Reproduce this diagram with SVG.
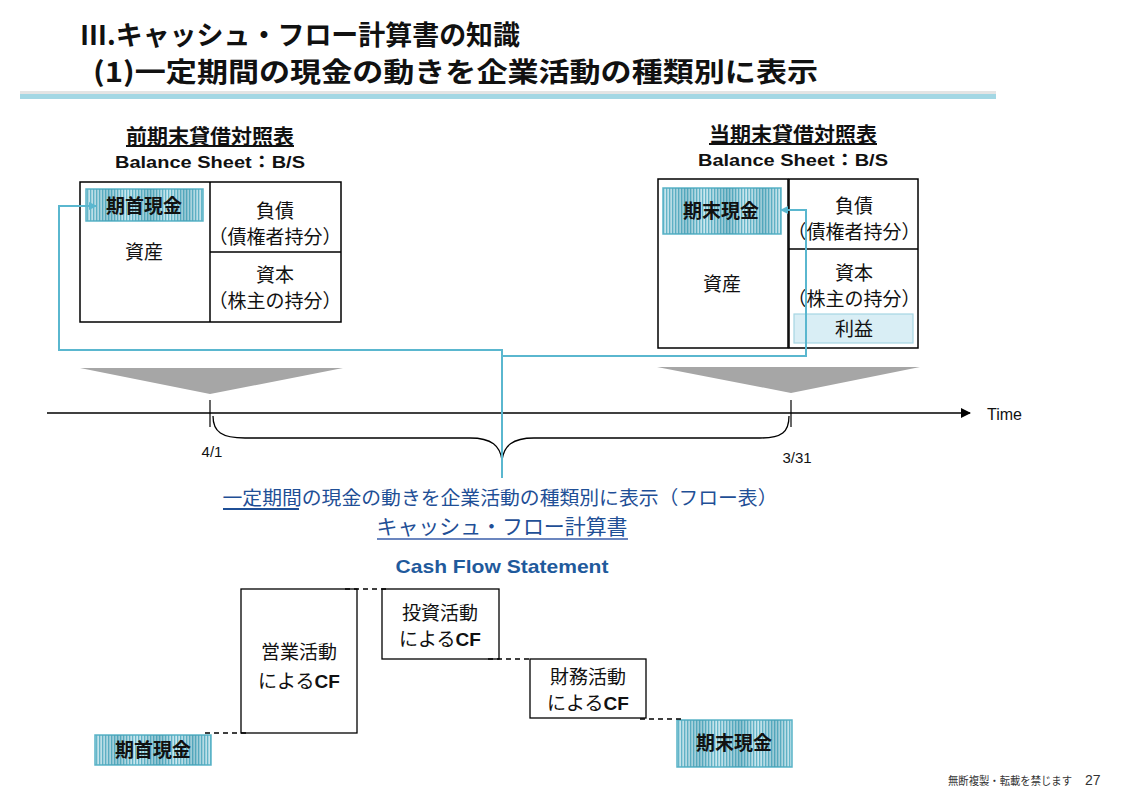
<svg xmlns="http://www.w3.org/2000/svg" width="1129" height="789" viewBox="0 0 1129 789">
<style>
.jp{font-family:"Noto Sans CJK JP","Liberation Sans",sans-serif;}
.t{font-size:19px;fill:#111;text-anchor:middle;}
.cfb{font-family:"Liberation Sans",sans-serif;font-weight:bold;}
.bsl{font-family:"Liberation Sans","Noto Sans CJK JP",sans-serif;font-size:17px;font-weight:bold;fill:#111;text-anchor:middle;}
.bs{fill:#fff;stroke:#000;stroke-width:1.5;}
.cf{fill:#fff;stroke:#000;stroke-width:1.3;}
.dash{stroke:#000;stroke-width:1.3;stroke-dasharray:5,4;fill:none;}
.conn{stroke:#5ab7cf;stroke-width:2;fill:none;}
.hl{stroke:#5ab4c8;stroke-width:1.5;}
</style>
<defs>
<pattern id="stripes" patternUnits="userSpaceOnUse" width="3" height="10">
<rect width="3" height="10" fill="#d6eef4"/>
<rect width="1.3" height="10" fill="#6bbacd"/>
</pattern>
<linearGradient id="bands" x1="0" y1="0" x2="1" y2="0">
<stop offset="0" stop-color="#1f7f98" stop-opacity="0.05"/>
<stop offset="0.2" stop-color="#1f7f98" stop-opacity="0.35"/>
<stop offset="0.35" stop-color="#1f7f98" stop-opacity="0.05"/>
<stop offset="0.55" stop-color="#1f7f98" stop-opacity="0.4"/>
<stop offset="0.7" stop-color="#1f7f98" stop-opacity="0.05"/>
<stop offset="0.85" stop-color="#1f7f98" stop-opacity="0.35"/>
<stop offset="1" stop-color="#1f7f98" stop-opacity="0.05"/>
</linearGradient>
<marker id="arr" markerWidth="8" markerHeight="8" refX="7" refY="4" orient="auto" markerUnits="userSpaceOnUse">
<path d="M0,0 L8,4 L0,8 Z" fill="#5ab7cf"/>
</marker>
<marker id="tarr" markerWidth="10" markerHeight="10" refX="9" refY="5" orient="auto" markerUnits="userSpaceOnUse">
<path d="M0,0 L10,5 L0,10 Z" fill="#000"/>
</marker>
</defs>
<rect width="1129" height="789" fill="#fff"/>

<g id="title">
<text class="jp" x="80" y="45" font-size="27" font-weight="bold" fill="#111" textLength="440" lengthAdjust="spacingAndGlyphs">Ⅲ.キャッシュ・フロー計算書の知識</text>
<text class="jp" x="93" y="82" font-size="27" font-weight="bold" fill="#111" textLength="725" lengthAdjust="spacingAndGlyphs">(1)一定期間の現金の動きを企業活動の種類別に表示</text>
<rect x="20" y="91" width="976" height="3" fill="#e4e4e4"/>
<rect x="20" y="94" width="976" height="5" fill="#a3d7e4"/>
</g>

<g id="bs-prev">
<text class="jp" x="210" y="144" font-size="20" font-weight="bold" text-anchor="middle" fill="#111" text-decoration="underline" textLength="168" lengthAdjust="spacingAndGlyphs">前期末貸借対照表</text>
<text class="bsl" x="210" y="168" textLength="190" lengthAdjust="spacingAndGlyphs">Balance Sheet：B/S</text>
<rect class="bs" x="80" y="182" width="261" height="140"/>
<line x1="210" y1="182" x2="210" y2="322" stroke="#000" stroke-width="1.5"/>
<line x1="210" y1="252" x2="341" y2="252" stroke="#000" stroke-width="1.5"/>
<rect x="86" y="189" width="117" height="32" fill="url(#stripes)" class="hl"/>
<rect x="86" y="189" width="117" height="32" fill="url(#bands)"/>
<text class="jp t" x="144" y="213" font-weight="bold">期首現金</text>
<text class="jp t" x="144" y="259">資産</text>
<text class="jp t" x="275" y="218">負債</text>
<text class="jp t" x="275" y="244">（債権者持分）</text>
<text class="jp t" x="275" y="282">資本</text>
<text class="jp t" x="275" y="308">（株主の持分）</text>
</g>

<g id="bs-curr">
<text class="jp" x="793" y="142" font-size="20" font-weight="bold" text-anchor="middle" fill="#111" text-decoration="underline" textLength="168" lengthAdjust="spacingAndGlyphs">当期末貸借対照表</text>
<text class="bsl" x="793" y="166" textLength="190" lengthAdjust="spacingAndGlyphs">Balance Sheet：B/S</text>
<rect class="bs" x="658" y="179" width="130" height="169"/>
<rect class="bs" x="789" y="179" width="129" height="169"/>
<line x1="789" y1="249" x2="918" y2="249" stroke="#000" stroke-width="1.5"/>
<rect x="663" y="188" width="118" height="46" fill="url(#stripes)" class="hl"/>
<rect x="663" y="188" width="118" height="46" fill="url(#bands)"/>
<text class="jp t" x="721" y="218" font-weight="bold">期末現金</text>
<text class="jp t" x="722" y="291">資産</text>
<text class="jp t" x="854" y="213">負債</text>
<text class="jp t" x="854" y="239">（債権者持分）</text>
<text class="jp t" x="854" y="280">資本</text>
<text class="jp t" x="854" y="306">（株主の持分）</text>
<rect x="794" y="314" width="119" height="29" fill="#d9eef5" stroke="#a6d6e3" stroke-width="1.2"/>
<text class="jp t" x="854" y="336">利益</text>
</g>

<g id="timeline">
<polygon points="80,368 343,368 210,394" fill="#a6a6a6"/>
<polygon points="657,367 920,367 791,393" fill="#a6a6a6"/>
<line x1="47" y1="413" x2="970" y2="413" stroke="#000" stroke-width="1.5" marker-end="url(#tarr)"/>
<line x1="210" y1="400" x2="210" y2="427" stroke="#000" stroke-width="1.2"/>
<line x1="791" y1="400" x2="791" y2="427" stroke="#000" stroke-width="1.2"/>
<path d="M213,416 C213,432 222,438 245,438 L470,438 C492,438 500,446 502,460 C504,446 512,438 534,438 L760,438 C782,438 789,432 789,416" fill="none" stroke="#000" stroke-width="1.3"/>
<text x="987" y="420" font-family="Liberation Sans, sans-serif" font-size="16" fill="#111">Time</text>
<text x="212" y="457" font-family="Liberation Sans, sans-serif" font-size="15" text-anchor="middle" fill="#111">4/1</text>
<text x="797" y="463" font-family="Liberation Sans, sans-serif" font-size="15" text-anchor="middle" fill="#111">3/31</text>
</g>

<g id="connectors">
<polyline class="conn" points="502,478 502,350 59,350 59,206 96,206" marker-end="url(#arr)"/>
<polyline class="conn" points="502,356 806,356 806,210 781,210" marker-end="url(#arr)"/>
</g>

<g id="cf-title">
<text class="jp" x="500" y="505" font-size="19" text-anchor="middle" fill="#1f4f96" textLength="555" lengthAdjust="spacingAndGlyphs">一定期間の現金の動きを企業活動の種類別に表示（フロー表）</text>
<line x1="223" y1="509" x2="299" y2="509" stroke="#1f4f96" stroke-width="2"/>
<text class="jp" x="502" y="534" font-size="21" text-anchor="middle" fill="#1f4f96" textLength="251" lengthAdjust="spacingAndGlyphs">キャッシュ・フロー計算書</text>
<line x1="377" y1="539" x2="628" y2="539" stroke="#6b86bf" stroke-width="2"/>
<text x="502" y="573" font-family="Liberation Sans, sans-serif" font-size="19" font-weight="bold" text-anchor="middle" fill="#1f5a9c" textLength="213" lengthAdjust="spacingAndGlyphs">Cash Flow Statement</text>
</g>

<g id="cf-start">
<rect x="95" y="735" width="116" height="30" fill="url(#stripes)" class="hl"/>
<rect x="95" y="735" width="116" height="30" fill="url(#bands)"/>
<text class="jp t" x="153" y="757" font-weight="bold">期首現金</text>
</g>
<g id="cf-operating">
<rect class="cf" x="241" y="589" width="116" height="144"/>
<text class="jp t" x="299" y="659">営業活動</text>
<text class="jp t" x="299" y="688">による<tspan class="cfb">CF</tspan></text>
</g>
<g id="cf-investing">
<rect class="cf" x="382" y="589" width="117" height="70"/>
<text class="jp t" x="440" y="620">投資活動</text>
<text class="jp t" x="440" y="646">による<tspan class="cfb">CF</tspan></text>
</g>
<g id="cf-financing">
<rect class="cf" x="530" y="659" width="116" height="59"/>
<text class="jp t" x="588" y="684">財務活動</text>
<text class="jp t" x="588" y="710">による<tspan class="cfb">CF</tspan></text>
</g>
<g id="cf-end">
<rect x="677" y="720" width="115" height="47" fill="url(#stripes)" class="hl"/>
<rect x="677" y="720" width="115" height="47" fill="url(#bands)"/>
<text class="jp t" x="734" y="750" font-weight="bold">期末現金</text>
</g>
<g id="cf-dashes">
<line class="dash" x1="205" y1="733" x2="250" y2="733"/>
<line class="dash" x1="345" y1="589" x2="388" y2="589"/>
<line class="dash" x1="488" y1="659" x2="533" y2="659"/>
<line class="dash" x1="640" y1="719" x2="682" y2="719"/>
</g>

<g id="footer">
<text class="jp" x="948" y="785" font-size="11" fill="#333" textLength="124" lengthAdjust="spacingAndGlyphs">無断複製・転載を禁じます</text>
<text x="1085" y="785" font-family="Liberation Sans, sans-serif" font-size="14" fill="#333">27</text>
</g>
</svg>
